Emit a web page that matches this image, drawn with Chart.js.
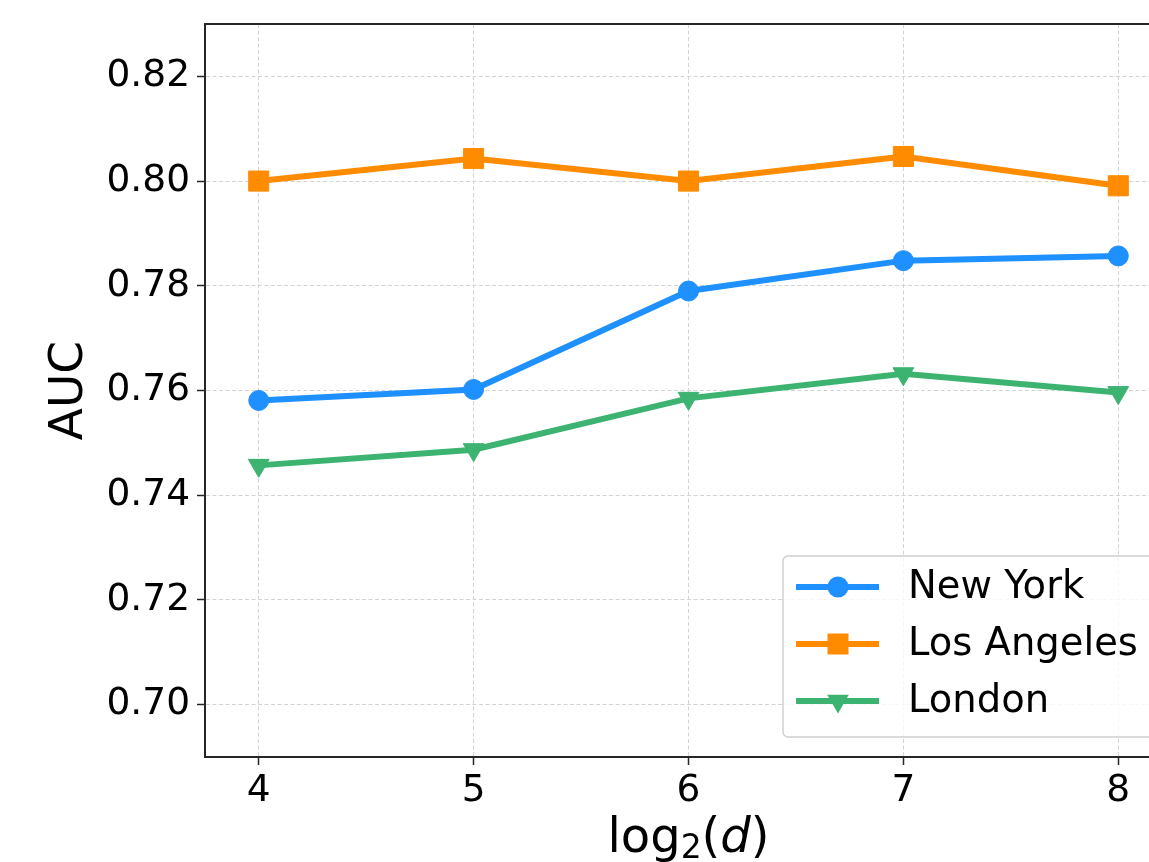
<!DOCTYPE html>
<html>
<head>
<meta charset="utf-8">
<script src="https://cdn.jsdelivr.net/npm/chart.js@4.4.1/dist/chart.umd.min.js"></script>
<style>
  html, body { margin: 0; padding: 0; background: #fff; overflow: hidden; }
  #wrap { width: 1200px; height: 862px; }
</style>
</head>
<body>
<div id="wrap"><canvas id="myChart" width="1200" height="862"></canvas></div>
<script>
const dims = [4, 5, 6, 7, 8];
const newYork = [0.7581, 0.7602, 0.7790, 0.7848, 0.7857];
const losAngeles = [0.8000, 0.8043, 0.8000, 0.8047, 0.7991];
const london = [0.7457, 0.7487, 0.7585, 0.7632, 0.7596];
const yTicks = [0.70, 0.72, 0.74, 0.76, 0.78, 0.80, 0.82];
const xTicks = [4, 5, 6, 7, 8];

const FONT = 'DejaVu Sans';

function toPoints(values) {
  return dims.map((d, i) => ({ x: d, y: values[i] }));
}

// top/right spines
const framePlugin = {
  id: 'frame',
  afterDraw(chart) {
    const { ctx, chartArea } = chart;
    ctx.save();
    ctx.strokeStyle = '#262626';
    ctx.lineWidth = 2;
    ctx.beginPath();
    ctx.moveTo(chartArea.left, chartArea.top);
    ctx.lineTo(chartArea.right, chartArea.top);
    ctx.lineTo(chartArea.right, chartArea.bottom);
    ctx.stroke();
    ctx.restore();
  }
};

// x axis title: log2(d) with subscript and italic d
const xTitlePlugin = {
  id: 'xTitle',
  afterDraw(chart) {
    const { ctx, chartArea } = chart;
    const parts = [
      { t: 'log', font: '48px ' + FONT, dy: 0 },
      { t: '2', font: '33px ' + FONT, dy: 6 },
      { t: '(', font: '48px ' + FONT, dy: 0 },
      { t: 'd', font: 'italic 48px ' + FONT, dy: 0 },
      { t: ')', font: '48px ' + FONT, dy: 0 }
    ];
    ctx.save();
    ctx.fillStyle = '#000';
    ctx.textBaseline = 'alphabetic';
    ctx.textAlign = 'left';
    let total = 0;
    parts.forEach(p => { ctx.font = p.font; p.w = ctx.measureText(p.t).width; total += p.w; });
    let x = (chartArea.left + chartArea.right) / 2 - total / 2;
    const base = 852;
    parts.forEach(p => {
      ctx.font = p.font;
      ctx.fillText(p.t, x, base + p.dy);
      x += p.w;
    });
    ctx.restore();
  }
};

function drawMarker(ctx, style, x, y, color) {
  ctx.fillStyle = color;
  ctx.beginPath();
  if (style === 'circle') {
    ctx.arc(x, y, 10.5, 0, Math.PI * 2);
  } else if (style === 'rect') {
    ctx.rect(x - 10.5, y - 10.5, 21, 21);
  } else {
    const r = 12.5;
    ctx.moveTo(x, y + r);
    ctx.lineTo(x - r * 0.866, y - r / 2);
    ctx.lineTo(x + r * 0.866, y - r / 2);
    ctx.closePath();
  }
  ctx.fill();
}

const legendPlugin = {
  id: 'boxLegend',
  afterDraw(chart) {
    const { ctx } = chart;
    const left = 783, top = 556, right = 1170, bottom = 737, rad = 5;
    ctx.save();
    ctx.beginPath();
    ctx.moveTo(left + rad, top);
    ctx.lineTo(right - rad, top);
    ctx.arcTo(right, top, right, top + rad, rad);
    ctx.lineTo(right, bottom - rad);
    ctx.arcTo(right, bottom, right - rad, bottom, rad);
    ctx.lineTo(left + rad, bottom);
    ctx.arcTo(left, bottom, left, bottom - rad, rad);
    ctx.lineTo(left, top + rad);
    ctx.arcTo(left, top, left + rad, top, rad);
    ctx.closePath();
    ctx.fillStyle = 'rgba(255,255,255,0.8)';
    ctx.fill();
    ctx.strokeStyle = '#d0d0d0';
    ctx.lineWidth = 1.5;
    ctx.stroke();

    const rows = [587, 644, 701];
    chart.data.datasets.forEach((ds, i) => {
      const y = rows[i];
      ctx.strokeStyle = ds.borderColor;
      ctx.lineWidth = 6;
      ctx.beginPath();
      ctx.moveTo(796, y);
      ctx.lineTo(879, y);
      ctx.stroke();
      drawMarker(ctx, ds.markerKind, 838, y, ds.borderColor);
      ctx.fillStyle = '#000';
      ctx.font = '38.5px ' + FONT;
      ctx.textBaseline = 'middle';
      ctx.textAlign = 'left';
      ctx.fillText(ds.label, 908, y + 1);
    });
    ctx.restore();
  }
};

new Chart(document.getElementById('myChart').getContext('2d'), {
  type: 'line',
  data: {
    datasets: [
      {
        label: 'New York',
        data: toPoints(newYork),
        borderColor: '#1E90FF',
        backgroundColor: '#1E90FF',
        pointStyle: 'circle',
        markerKind: 'circle',
        pointRadius: 10,
        pointBorderWidth: 1
      },
      {
        label: 'Los Angeles',
        data: toPoints(losAngeles),
        borderColor: '#FF8C00',
        backgroundColor: '#FF8C00',
        pointStyle: 'rect',
        markerKind: 'rect',
        pointRadius: 14.2,
        pointBorderWidth: 1
      },
      {
        label: 'London',
        data: toPoints(london),
        borderColor: '#3CB371',
        backgroundColor: '#3CB371',
        pointStyle: 'triangle',
        markerKind: 'triangleDown',
        pointRotation: 180,
        pointRadius: 12,
        pointBorderWidth: 1
      }
    ]
  },
  options: {
    responsive: false,
    animation: false,
    events: [],
    elements: {
      line: { borderWidth: 6, tension: 0, fill: false },
      point: { hoverRadius: 10 }
    },
    layout: { padding: { top: 24, right: 28, bottom: 0, left: 0 } },
    plugins: {
      legend: { display: false },
      tooltip: { enabled: false }
    },
    scales: {
      x: {
        type: 'linear',
        min: 3.75,
        max: 8.25,
        afterBuildTicks: s => { s.ticks = xTicks.map(v => ({ value: v })); },
        afterFit: s => { s.height = 105; s.paddingLeft = 0; s.paddingRight = 0; },
        grid: { color: '#d3d3d3', lineWidth: 1, tickColor: '#262626', tickLength: 8, tickWidth: 1.5 },
        border: { color: '#262626', width: 2, dash: [4, 2.5] },
        ticks: {
          color: '#000',
          font: { family: FONT, size: 37.5 },
          padding: 4,
          maxRotation: 0,
          autoSkip: false,
          callback: v => String(v)
        }
      },
      y: {
        type: 'linear',
        min: 0.69,
        max: 0.83,
        afterBuildTicks: s => { s.ticks = yTicks.map(v => ({ value: v })); },
        afterFit: s => { s.width = 205; s.paddingTop = 0; s.paddingBottom = 0; },
        grid: { color: '#d3d3d3', lineWidth: 1, tickColor: '#262626', tickLength: 8, tickWidth: 1.5 },
        border: { color: '#262626', width: 2, dash: [4, 2.5] },
        title: {
          display: true,
          text: 'AUC',
          color: '#000',
          font: { family: FONT, size: 47 },
          padding: { top: 42, bottom: 0 }
        },
        ticks: {
          color: '#000',
          font: { family: FONT, size: 37.5 },
          padding: 7,
          autoSkip: false,
          callback: v => v.toFixed(2)
        }
      }
    }
  },
  plugins: [framePlugin, xTitlePlugin, legendPlugin]
});
</script>
</body>
</html>
